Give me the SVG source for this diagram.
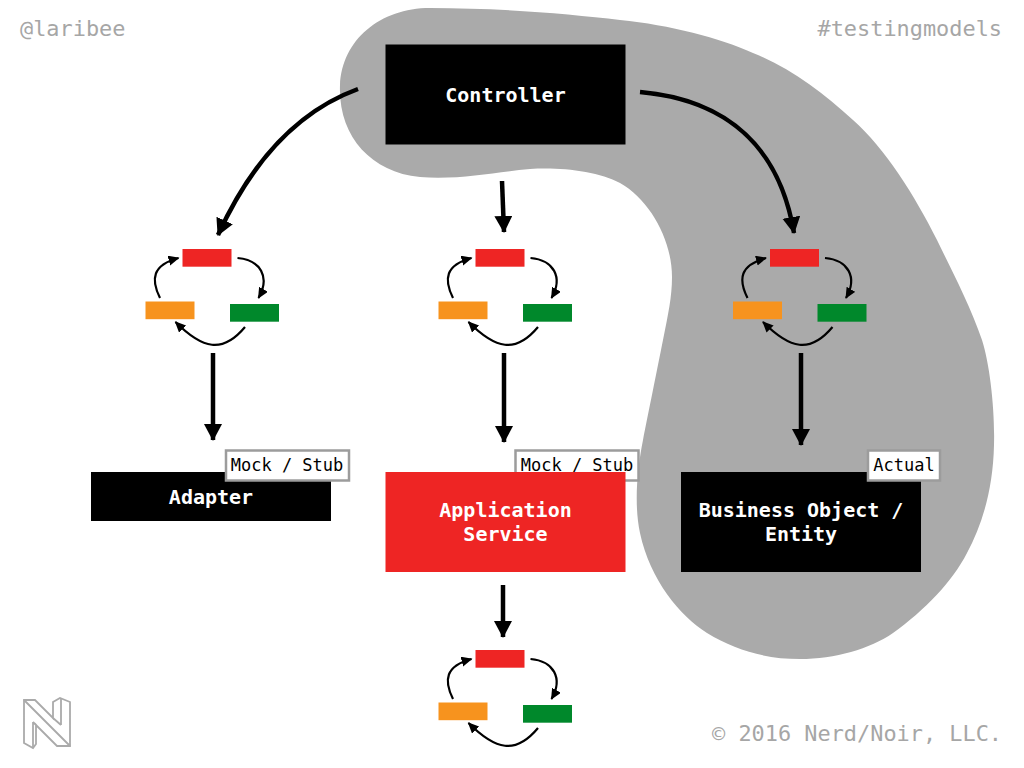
<svg xmlns="http://www.w3.org/2000/svg" width="1024" height="768" viewBox="0 0 1024 768">
<style>
.mono{font-family:"DejaVu Sans Mono","Liberation Mono",monospace}
.title{font-size:20px;font-weight:bold;fill:#fff;text-anchor:middle}
.tag{font-size:17px;fill:#000}
.tagbox{fill:#fff;stroke:#9c9c9c;stroke-width:2.500}
.corner{font-size:21.900px;fill:#a6a6a6}
.big{fill:none;stroke:#000;stroke-width:4.500}
.small{fill:none;stroke:#000;stroke-width:2.200}
</style>
<defs>
<marker id="bigHead" markerUnits="userSpaceOnUse" markerWidth="20" markerHeight="20" refX="16" refY="9" orient="auto"><path d="M0 0L17 9L0 18Z" fill="#000"/></marker>
<marker id="smallHead" markerUnits="userSpaceOnUse" markerWidth="12" markerHeight="12" refX="10" refY="5" orient="auto"><path d="M0 0L11 5L0 10Z" fill="#000"/></marker>
<g id="cycle">
<rect x="0" y="0" width="49" height="17.700" fill="#ee2524"/>
<rect x="-37" y="52.500" width="49" height="17.700" fill="#f7931e"/>
<rect x="47.500" y="55" width="49" height="17.700" fill="#00882b"/>
<path class="small" marker-end="url(#smallHead)" d="M-22.500 49C-32 30-30 16-4 9"/>
<path class="small" marker-end="url(#smallHead)" d="M55 9C78 11 88 28 76 49"/>
<path class="small" marker-end="url(#smallHead)" d="M62.500 78C40 105 20 100-7 73"/>
</g>
</defs>
<path id="blob" fill="#aaaaaa" d="M340 85C342 40 380 8 430 8C500 8 570 14 620 20C670 25 720 38 753 53C790 68 822 92 853 120C885 148 915 196 937 240C950 267 970 305 982 340C990 365 995 410 994 445C993 490 982 525 967 553C952 582 925 610 893 633C870 649 835 659 800 659C765 659 735 650 707 633C680 616 650 580 640 533C634 505 637 470 643 440C648 415 657 370 663 340C668 315 672 297 672 277C672 240 650 200 620 183C598 171 560 167 530 169C495 172 460 180 420 177C370 172 338 135 340 85Z"/>
<text class="mono corner" x="20" y="36">@laribee</text>
<text class="mono corner" x="1002" y="36" text-anchor="end">#testingmodels</text>
<text class="mono corner" x="1002" y="741" text-anchor="end">© 2016 Nerd/Noir, LLC.</text>
<g id="logo" fill="none" stroke="#aaaaaa" stroke-width="1.800">
<path d="M24 700L35 700L53 718L53 702L60 698L70 702L70 746L57 746L36 725L36 744L33 748L24 743Z"/>
<path d="M24 700L70 746M61 698L61 725M53 718L61 725M33 722L33 748M33 722L36 725"/>
</g>
<g id="controller"><rect x="385.500" y="44.500" width="240" height="100" fill="#000"/><text class="mono title" x="505.500" y="102">Controller</text></g>
<g id="adapter">
<rect x="91" y="472" width="240" height="49" fill="#000"/>
<text class="mono title" x="211" y="504">Adapter</text>
<rect class="tagbox" x="226" y="450.500" width="123" height="30"/><text class="mono tag" x="287" y="471" text-anchor="middle">Mock / Stub</text></g>
<g id="appservice">
<rect class="tagbox" x="515.500" y="450.500" width="123" height="30"/><text class="mono tag" x="577" y="471" text-anchor="middle">Mock / Stub</text>
<rect x="385.500" y="472" width="240" height="100" fill="#ee2524"/>
<text class="mono title" x="505.500" y="517">Application</text><text class="mono title" x="505.500" y="541">Service</text></g>
<g id="entity">
<rect x="681" y="472" width="240" height="100" fill="#000"/>
<text class="mono title" x="801" y="517">Business Object /</text><text class="mono title" x="801" y="541">Entity</text>
<rect class="tagbox" x="868" y="450.500" width="72" height="30"/><text class="mono tag" x="904" y="471" text-anchor="middle">Actual</text></g>
<g id="cycle-adapter"><use href="#cycle" x="182.500" y="249"/></g>
<g id="cycle-service"><use href="#cycle" x="475.500" y="249"/></g>
<g id="cycle-entity"><use href="#cycle" x="770" y="249"/></g>
<g id="cycle-bottom"><use href="#cycle" x="475.500" y="650"/></g>
<g id="connectors">
<path class="big" marker-end="url(#bigHead)" d="M358 89C295 112 250 165 218 235"/>
<path class="big" marker-end="url(#bigHead)" d="M502 181L504 232"/>
<path class="big" marker-end="url(#bigHead)" d="M640 92C730 100 780 150 794 233"/>
<path class="big" marker-end="url(#bigHead)" d="M213 353L213 440"/>
<path class="big" marker-end="url(#bigHead)" d="M504 353L504 442"/>
<path class="big" marker-end="url(#bigHead)" d="M801 353L801 445"/>
<path class="big" marker-end="url(#bigHead)" d="M503 585L503 637"/>
</g>
</svg>
